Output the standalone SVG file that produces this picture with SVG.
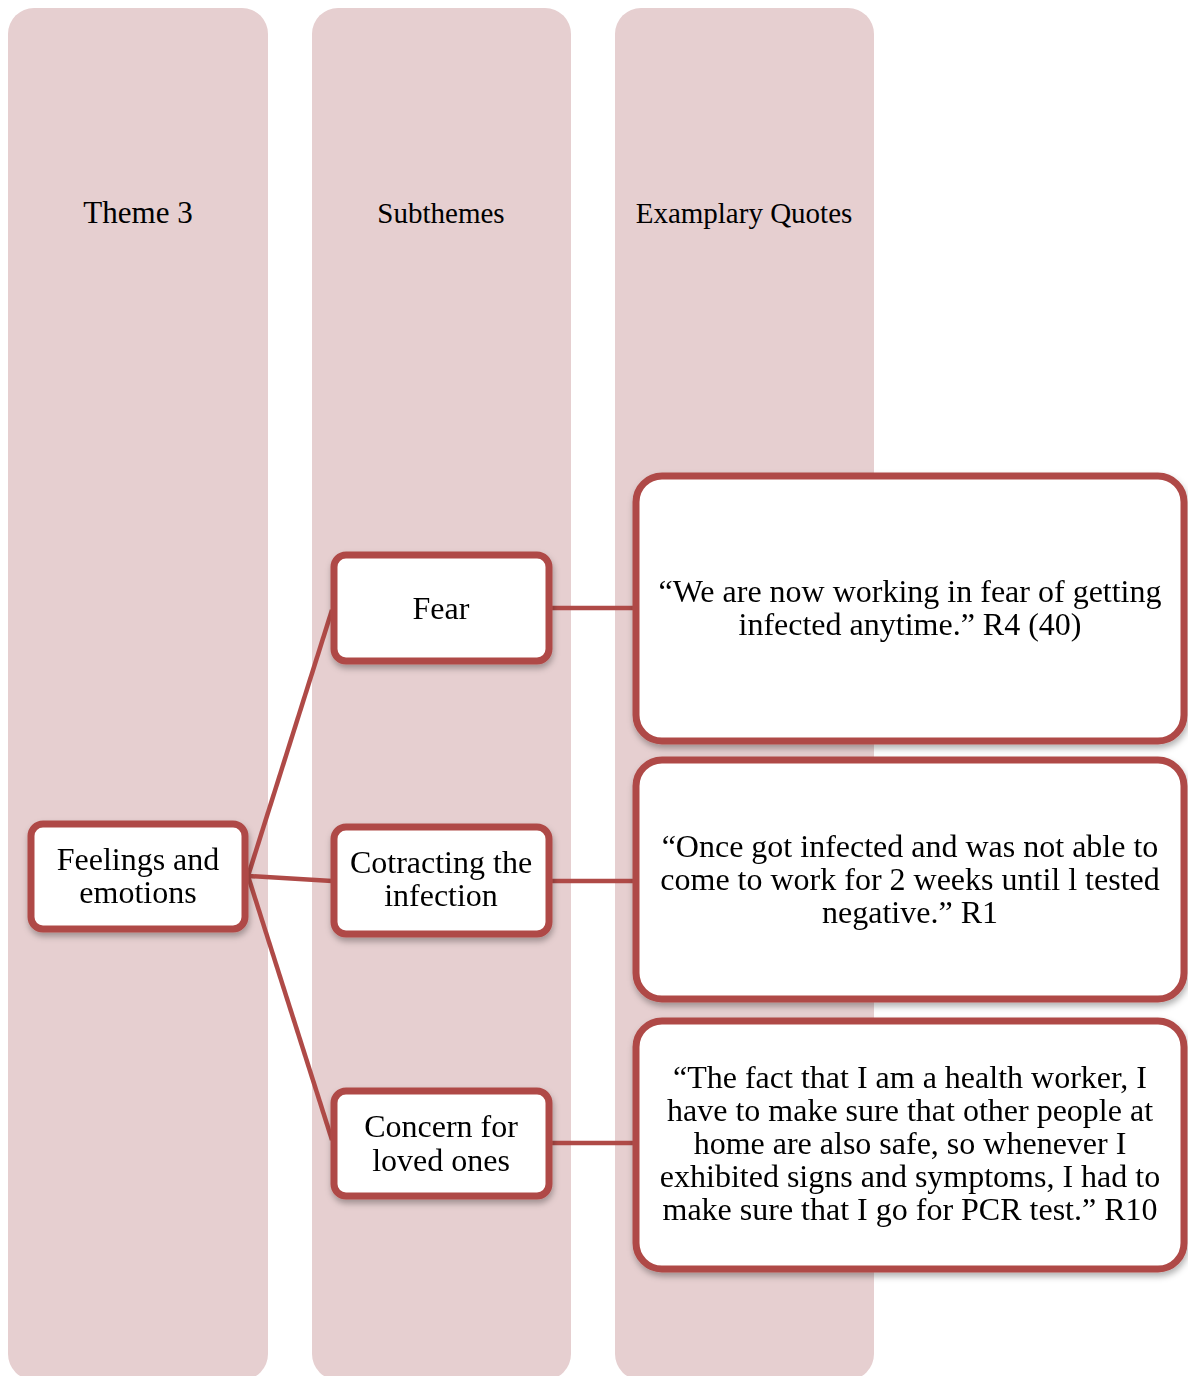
<svg xmlns="http://www.w3.org/2000/svg" width="1188" height="1376" viewBox="0 0 1188 1376">
<style>
.col{fill:#E6CFD0}
.box{fill:#fff;stroke:#AF4A47;stroke-width:7}
.lnk{stroke:#AF4A47;stroke-width:4.5;fill:none}
text{font-family:"Liberation Serif","Times New Roman",serif;fill:#000;text-anchor:middle}
.h{font-size:29px}
.t{font-size:32px}
</style>
<defs>
<filter id="sh" x="-10%" y="-10%" width="120%" height="130%">
<feDropShadow dx="1" dy="4" stdDeviation="3" flood-color="#000" flood-opacity="0.3"/>
</filter>
</defs>
<g id="columns">
<rect class="col" x="8" y="8" width="260" height="1372" rx="26"/>
<rect class="col" x="312" y="8" width="259" height="1372" rx="26"/>
<rect class="col" x="615" y="8" width="259" height="1372" rx="26"/>
<text class="h" x="138" y="223" style="font-size:31px">Theme 3</text>
<text class="h" x="441" y="223">Subthemes</text>
<text class="h" x="744" y="223">Examplary Quotes</text>
</g>
<g id="connectors">
<line class="lnk" x1="248" y1="876" x2="332" y2="610"/>
<line class="lnk" x1="248" y1="876" x2="332" y2="881"/>
<line class="lnk" x1="248" y1="876" x2="332" y2="1140"/>
<line class="lnk" x1="550" y1="608" x2="636" y2="608"/>
<line class="lnk" x1="550" y1="881" x2="636" y2="881"/>
<line class="lnk" x1="550" y1="1143" x2="636" y2="1143"/>
</g>
<g id="n-feelings" filter="url(#sh)">
<rect class="box" x="31" y="824" width="214" height="105" rx="12"/>
<text class="t" x="138" y="870">Feelings and</text>
<text class="t" x="138" y="903">emotions</text>
</g>
<g id="n-fear" filter="url(#sh)">
<rect class="box" x="334" y="555" width="215" height="106" rx="12"/>
<text class="t" x="441" y="619">Fear</text>
</g>
<g id="n-contracting" filter="url(#sh)">
<rect class="box" x="334" y="827" width="215" height="107" rx="12"/>
<text class="t" x="441" y="873">Cotracting the</text>
<text class="t" x="441" y="906">infection</text>
</g>
<g id="n-concern" filter="url(#sh)">
<rect class="box" x="334" y="1091" width="215" height="105" rx="12"/>
<text class="t" x="441" y="1137">Concern for</text>
<text class="t" x="441" y="1171">loved ones</text>
</g>
<g id="q-fear" filter="url(#sh)">
<rect class="box" x="636" y="476" width="548" height="265" rx="26"/>
<text class="t" x="910" y="602">“We are now working in fear of getting</text>
<text class="t" x="910" y="635">infected anytime.” R4 (40)</text>
</g>
<g id="q-contracting" filter="url(#sh)">
<rect class="box" x="636" y="760" width="548" height="239" rx="26"/>
<text class="t" x="910" y="857">“Once got infected and was not able to</text>
<text class="t" x="910" y="890">come to work for 2 weeks until l tested</text>
<text class="t" x="910" y="923">negative.” R1</text>
</g>
<g id="q-concern" filter="url(#sh)">
<rect class="box" x="636" y="1021" width="548" height="248" rx="26"/>
<text class="t" x="910" y="1088">“The fact that I am a health worker, I</text>
<text class="t" x="910" y="1121">have to make sure that other people at</text>
<text class="t" x="910" y="1154">home are also safe, so whenever I</text>
<text class="t" x="910" y="1187">exhibited signs and symptoms, I had to</text>
<text class="t" x="910" y="1220">make sure that I go for PCR test.” R10</text>
</g>
</svg>
